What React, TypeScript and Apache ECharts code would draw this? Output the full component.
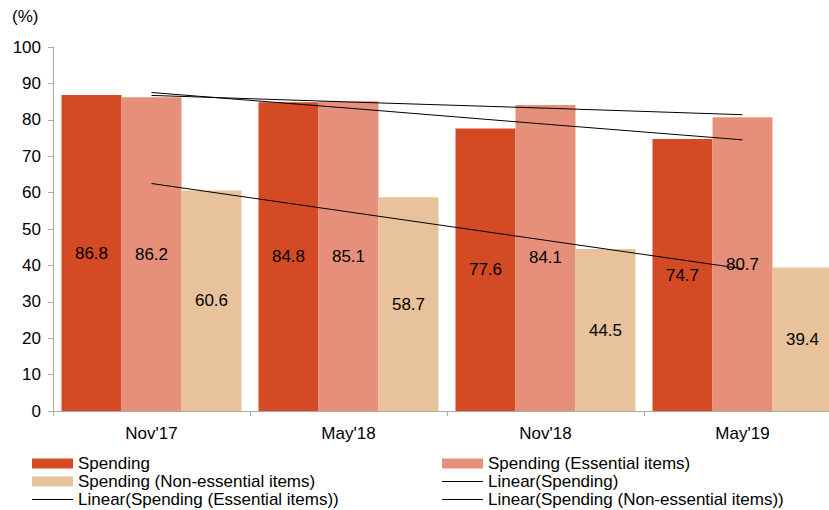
import React, { useEffect, useRef } from "react";
import * as echarts from "echarts";

const categories = ["Nov'17", "May'18", "Nov'18", "May'19"];
const spending = [86.8, 84.8, 77.6, 74.7];
const essential = [86.2, 85.1, 84.1, 80.7];
const nonEssential = [60.6, 58.7, 44.5, 39.4];
const trendSpending = [87.5, 83.2, 78.8, 74.5];
const trendEssential = [86.7, 84.9, 83.2, 81.4];
const trendNonEssential = [62.5, 54.7, 46.9, 39.1];
const yTicks = { min: 0, max: 100, interval: 10 };

const FONT = "Liberation Sans, Arial, sans-serif";
const FS = 17;
const LFS = 17;

export default function App() {
  const ref = useRef<HTMLDivElement>(null);
  useEffect(() => {
    if (!ref.current) return;
    const chart = echarts.init(ref.current, null, { renderer: "svg" });
    const label = {
      show: true,
      position: "inside",
      color: "#000",
      fontSize: FS,
      fontFamily: FONT,
      formatter: (p: any) => p.value.toFixed(1),
    };
    const lineSeries = (name: string, data: number[]) => ({
      name,
      type: "line",
      data,
      symbol: "none",
      z: 5,
      lineStyle: { color: "#000", width: 1 },
      itemStyle: { color: "#000" },
    });
    const legendItem = (name: string, left: number, top: number, isLine: boolean) => ({
      left,
      top,
      orient: "horizontal",
      itemWidth: 41,
      itemHeight: isLine ? 1.2 : 10,
      itemGap: 0,
      padding: 0,
      icon: "rect",
      textStyle: { color: "#000", fontSize: LFS, fontFamily: FONT },
      data: [isLine ? { name, icon: "rect", itemStyle: { color: "#000" } } : { name, icon: "rect" }],
    });
    chart.setOption({
      animation: false,
      textStyle: { fontFamily: FONT },
      grid: { left: 53, top: 47, width: 788, height: 364, containLabel: false },
      legend: [
        legendItem("Spending", 32, 455, false),
        legendItem("Spending (Non-essential items)", 32, 473, false),
        legendItem("Linear(Spending (Essential items))", 32, 491, true),
        legendItem("Spending (Essential items)", 442, 455, false),
        legendItem("Linear(Spending)", 442, 473, true),
        legendItem("Linear(Spending (Non-essential items))", 442, 491, true),
      ],
      graphic: [
        {
          type: "text",
          left: 12,
          top: 8,
          style: { text: "(%)", fontSize: FS, fontFamily: FONT, fill: "#000" },
        },
      ],
      xAxis: {
        type: "category",
        data: categories,
        axisLine: { lineStyle: { color: "#aaa" } },
        axisTick: { show: true, length: 5, lineStyle: { color: "#aaa" } },
        axisLabel: { color: "#000", fontSize: FS, fontFamily: FONT, margin: 14 },
      },
      yAxis: {
        type: "value",
        min: yTicks.min,
        max: yTicks.max,
        interval: yTicks.interval,
        splitLine: { show: false },
        axisLine: { show: true, lineStyle: { color: "#aaa" } },
        axisTick: { show: true, length: 5, lineStyle: { color: "#aaa" } },
        axisLabel: { color: "#000", fontSize: FS, fontFamily: FONT, margin: 12 },
      },
      series: [
        {
          name: "Spending",
          type: "bar",
          data: spending,
          barWidth: 60,
          barGap: "0%",
          itemStyle: { color: "#D44A24" },
          label,
        },
        {
          name: "Spending (Essential items)",
          type: "bar",
          data: essential,
          barWidth: 60,
          barGap: "0%",
          itemStyle: { color: "#E6907B" },
          label,
        },
        {
          name: "Spending (Non-essential items)",
          type: "bar",
          data: nonEssential,
          barWidth: 60,
          barGap: "0%",
          itemStyle: { color: "#E8C29A" },
          label,
        },
        lineSeries("Linear(Spending)", trendSpending),
        lineSeries("Linear(Spending (Essential items))", trendEssential),
        lineSeries("Linear(Spending (Non-essential items))", trendNonEssential),
      ],
    });
    return () => chart.dispose();
  }, []);
  return (
    <div style={{ width: 829, height: 510, position: "absolute", left: 0, top: 0, overflow: "hidden" }}>
      <div ref={ref} style={{ width: 845, height: 510 }} />
    </div>
  );
}
